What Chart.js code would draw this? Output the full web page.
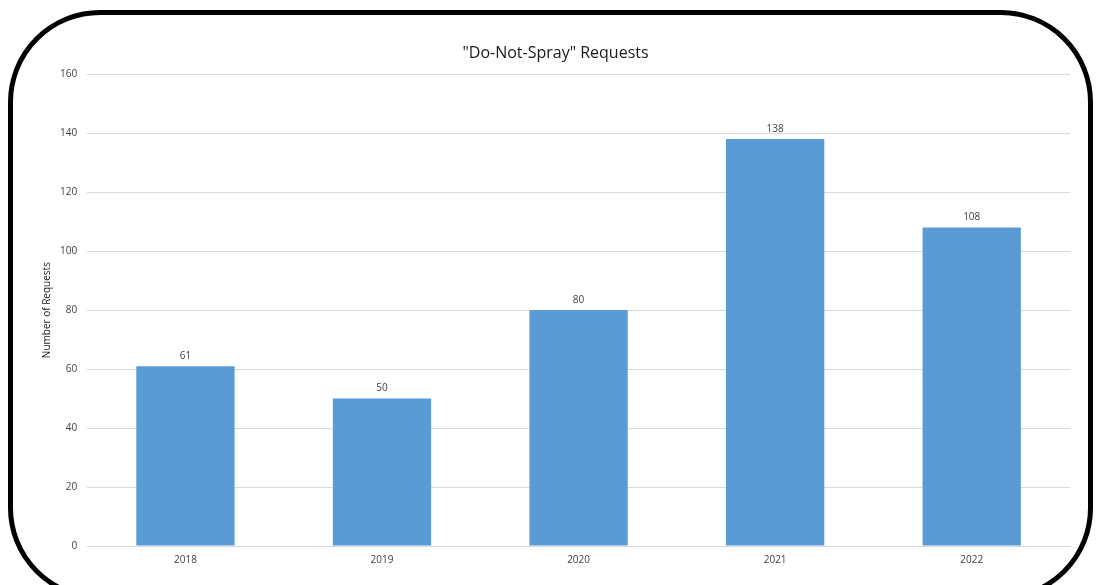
<!DOCTYPE html>
<html>
<head>
<meta charset="utf-8">
<script src="https://cdn.jsdelivr.net/npm/chart.js@4"></script>
<style>
  html, body { margin: 0; padding: 0; background: #fff; }
  #wrap { position: relative; width: 1100px; height: 585px; overflow: hidden; }
  #frame {
    position: absolute; left: 8px; top: 10px; width: 1075px; height: 580px;
    border: 5px solid #000; border-radius: 92px; box-sizing: content-box;
  }
  #chartBox { position: absolute; left: 0; top: 0; width: 1100px; height: 585px; }
</style>
</head>
<body>
<div id="wrap">
  <div id="frame"></div>
  <div id="chartBox"><canvas id="reqChart"></canvas></div>
</div>
<script>
// data
const years = ['2018', '2019', '2020', '2021', '2022'];
const requests = [61, 50, 80, 138, 108];
const yTicks = [0, 20, 40, 60, 80, 100, 120, 140, 160];

const FONT = "'Open Sans', 'Noto Sans', sans-serif";

// value labels above each bar
const barLabels = {
    id: 'barLabels',
    afterDatasetsDraw(chart) {
        const ctx = chart.ctx;
        const meta = chart.getDatasetMeta(0);
        ctx.save();
        ctx.fillStyle = '#404040';
        ctx.font = '10px ' + FONT;
        ctx.textAlign = 'center';
        ctx.textBaseline = 'bottom';
        meta.data.forEach((bar, i) => {
            ctx.fillText(String(requests[i]), bar.x, bar.y - 5);
        });
        ctx.restore();
    }
};

new Chart(document.getElementById('reqChart'), {
    type: 'bar',
    data: {
        labels: years,
        datasets: [{
            label: 'Requests',
            data: requests,
            backgroundColor: '#5b9bd5',
            borderWidth: 0,
            categoryPercentage: 1.0,
            barPercentage: 0.5
        }]
    },
    options: {
        responsive: true,
        maintainAspectRatio: false,
        animation: false,
        layout: { padding: { top: 44, right: 30, bottom: 11, left: 41 } },
        plugins: {
            legend: { display: false },
            tooltip: { enabled: false },
            title: {
                display: true,
                text: '"Do-Not-Spray" Requests',
                color: '#1a1a1a',
                font: { family: FONT, size: 16, weight: 'normal' },
                padding: { top: 0, bottom: 11 }
            }
        },
        scales: {
            x: {
                grid: { display: false, drawTicks: false },
                border: { display: true, color: '#d9d9d9', width: 1 },
                ticks: {
                    color: '#404040',
                    font: { family: FONT, size: 10 },
                    padding: 8
                }
            },
            y: {
                min: 0,
                max: 160,
                afterBuildTicks(axis) {
                    axis.ticks = yTicks.map(v => ({ value: v }));
                },
                grid: { color: '#d9d9d9', drawTicks: false },
                border: { display: false },
                ticks: {
                    color: '#404040',
                    font: { family: FONT, size: 10 },
                    padding: 10
                },
                title: {
                    display: true,
                    text: 'Number of Requests',
                    color: '#1a1a1a',
                    font: { family: FONT, size: 10 },
                    padding: { top: 0, bottom: -3 }
                }
            }
        }
    },
    plugins: [barLabels]
});
</script>
</body>
</html>
